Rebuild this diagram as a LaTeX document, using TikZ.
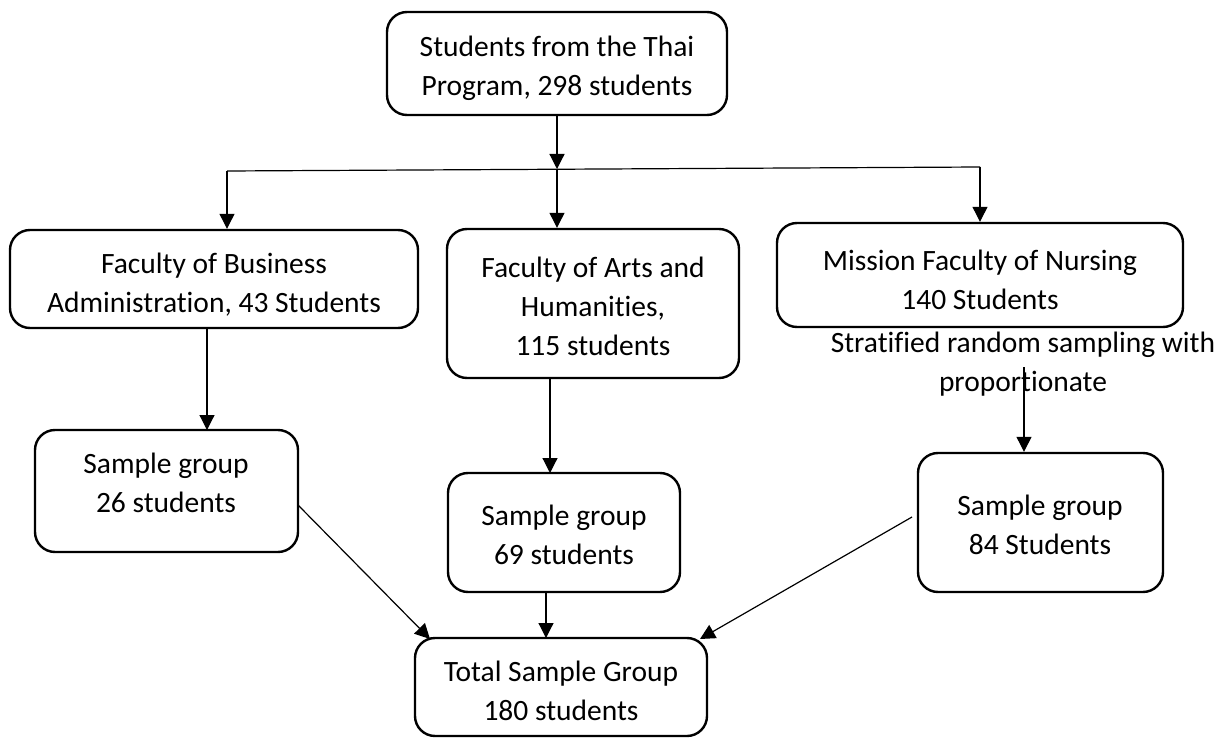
\documentclass[tikz,border=0pt]{standalone}
\usepackage{fontspec}
\setmainfont[RawFeature=-liga]{Carlito}
\usetikzlibrary{arrows.meta,fit}
\begin{document}
\begin{tikzpicture}[x=1pt,y=-1pt,
  box/.style={draw,line width=2.4pt,rounded corners=20pt,inner sep=0pt},
  txt/.style={align=center,font=\fontsize{29.5}{39}\selectfont,inner sep=0pt},
  conn/.style={line width=1.2pt,-{Triangle[length=15pt,width=15pt]}},
  plain/.style={line width=1.2pt}]
\useasboundingbox (0,0) rectangle (1226,738);
% boxes
\node[box,fit={(387,12)(727,115)}] (top) {};
\node[box,fit={(10,230)(418,328)}] (bus) {};
\node[box,fit={(447,229)(739,378)}] (arts) {};
\node[box,fit={(777,223)(1183,327)}] (nurs) {};
\node[box,fit={(35,430)(298,552)}] (s26) {};
\node[box,fit={(448,473)(680,592)}] (s69) {};
\node[box,fit={(918,453)(1163,592)}] (s84) {};
\node[box,fit={(415,638)(707,736)}] (tot) {};
% texts
\node[txt] (ttop) at (557,68) {Students from the Thai\\Program, 298 students};
\node[txt] (tbus) at (214,285) {Faculty of Business\\Administration, 43 Students};
\node[txt] (tarts) at (593,306) {Faculty of Arts and\\Humanities,\\115 students};
\node[txt] (tnurs) at (980,280) {Mission Faculty of Nursing\\140 Students};
\node[txt] (lbl) at (1023,364) {Stratified random sampling with\\proportionate};
\node[txt] (t26) at (166,483) {Sample group\\26 students};
\node[txt] (t69) at (564,535) {Sample group\\69 students};
\node[txt] (t84) at (1040,525) {Sample group\\84 Students};
\node[txt] (ttot) at (561,691) {Total Sample Group\\180 students};
% connector points
\coordinate (jm) at (557,169);
\coordinate (jl) at (227,171);
\coordinate (jr) at (980,167);
\coordinate (lblp) at (1024,367);
\coordinate (e26) at (298,505);
\coordinate (e84) at (912,517);
% connectors
\draw[conn] (top.south -| jm) -- (jm);
\draw[plain] (jl) -- (jr);
\draw[conn] (jl) -- (jl |- bus.north);
\draw[conn] (jm) -- (jm |- arts.north);
\draw[conn] (jr) -- (jr |- nurs.north);
\draw[conn] (207,328) -- (207,430);
\draw[conn] (550,378) -- (550,473);
\draw[conn] (546,592) -- (546,638);
\draw[conn] (lblp) -- (lblp |- s84.north);
\draw[conn] (e26) -- (430,639);
\draw[conn] (e84) -- (700,639);
\end{tikzpicture}
\end{document}
